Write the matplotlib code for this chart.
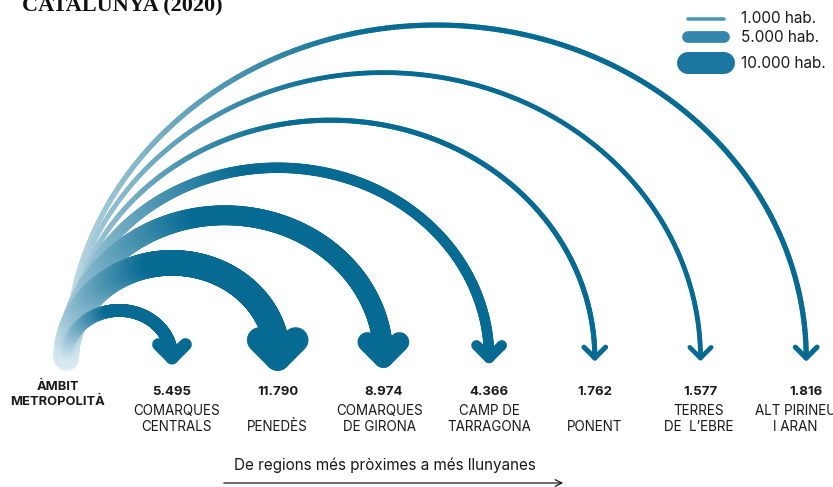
import numpy as np
import matplotlib
matplotlib.use("Agg")
import matplotlib.pyplot as plt
from matplotlib.collections import LineCollection
from matplotlib.colors import to_rgb

# Dades: persones que surten de l'Àmbit Metropolità cap a cada regió (2020)
regions = ["COMARQUES\nCENTRALS", "PENEDÈS", "COMARQUES\nDE GIRONA", "CAMP DE\nTARRAGONA",
           "PONENT", "TERRES\nDE  L\u2019EBRE", "ALT PIRINEU\nI ARAN"]
values = [5495, 11790, 8974, 4366, 1762, 1577, 1816]
value_labels = ["5.495", "11.790", "8.974", "4.366", "1.762", "1.577", "1.816"]
legend_values = [1000, 5000, 10000]
legend_labels = ["1.000 hab.", "5.000 hab.", "10.000 hab."]

DARK = "#066a92"
LIGHT = "#dcecf3"
LEGEND_COLORS = ["#4b97b8", "#3387ac", "#1b76a0"]
TXT = "#1a1a1a"

# posició horitzontal: 0 = origen, 1..7 = regions (en píxels: X0 + DX*i)
X0, DX = 66.3, 105.7
Y0 = 358  # línia base de les fletxes
name_shift = [5, 0, -4, 0, 0, -2, -11]  # petits ajustos de les etiquetes (px)


def px(x):
    return (x - X0) / DX


def width_px(v):
    return 1.5 + 0.00205 * v


fig = plt.figure(figsize=(8.33, 4.87), dpi=100)
ax = fig.add_axes([0, 0, 1, 1])
ax.set_xlim(px(0), px(833))
ax.set_ylim(487, 0)
ax.axis("off")

light = np.array(to_rgb(LIGHT))
dark = np.array(to_rgb(DARK))

# arcs, del més gran al més petit perquè els petits quedin a sobre
for i in range(len(values) - 1, -1, -1):
    pos = i + 1
    v = values[i]
    w = width_px(v)
    z = 10 + (7 - i)
    hr = pos / 2.0
    vr = 0.9 * hr * DX
    theta = np.linspace(np.pi, 0, 301)
    xs = hr + hr * np.cos(theta)
    ys = Y0 - vr * np.sin(theta)
    pts = np.column_stack([xs, ys]).reshape(-1, 1, 2)
    segs = np.concatenate([pts[:-1], pts[1:]], axis=1)
    t = np.linspace(0, 1, len(segs))
    f = np.clip(t / 0.45, 0, 1) ** 1.1
    cols = light[None, :] + (dark - light)[None, :] * f[:, None]
    lc = LineCollection(segs, colors=cols, linewidths=w * 0.72, capstyle="round",
                        joinstyle="round", zorder=z)
    ax.add_collection(lc)

    # punta de fletxa
    a = 9 + 0.35 * w
    ax.plot([pos - a / DX, pos, pos + a / DX], [Y0 - a, Y0, Y0 - a], color=DARK,
            lw=w * 0.72, solid_capstyle="round", solid_joinstyle="round", zorder=z)

    # etiquetes
    ax.text(pos, 392, value_labels[i], ha="center", va="center", fontsize=9.5,
            fontweight="bold", family="Inter", color=TXT)
    lines = regions[i].split("\n")
    if len(lines) == 1:
        lines = ["", lines[0]]
    xn = pos + name_shift[i] / DX
    ax.text(xn, 411, lines[0], ha="center", va="center", fontsize=9.7,
            family="Inter", color=TXT)
    ax.text(xn, 427, lines[1], ha="center", va="center", fontsize=9.7,
            family="Inter", color=TXT)

ax.text(px(58), 387, "ÀMBIT", ha="center", va="center", fontsize=9.3,
        fontweight="bold", family="Inter", color=TXT)
ax.text(px(58), 402, "METROPOLITÀ", ha="center", va="center", fontsize=9.3,
        fontweight="bold", family="Inter", color=TXT)

# títol (retallat a dalt, com a l'original)
ax.text(px(22), 11, "CATALUNYA (2020)", ha="left", va="baseline", fontsize=16,
        fontweight="bold", family="Liberation Serif", color="#111111")

# llegenda
for k, lv in enumerate(legend_values):
    yy = [18.5, 37, 63][k]
    ax.plot([px(688), px(724)], [yy, yy], color=LEGEND_COLORS[k],
            lw=width_px(lv) * 0.72, solid_capstyle="round")
    ax.text(px(741), yy, legend_labels[k], ha="left", va="center", fontsize=11,
            family="Inter", color=TXT)

# peu
ax.text(px(385), 465, "De regions més pròximes a més llunyanes", ha="center",
        va="center", fontsize=11, family="Inter", color=TXT)
ax.annotate("", xy=(px(566), 483), xytext=(px(221), 483),
            arrowprops=dict(arrowstyle="->", color=TXT, lw=0.9,
                            mutation_scale=12))

fig.savefig("out.png", dpi=100)
